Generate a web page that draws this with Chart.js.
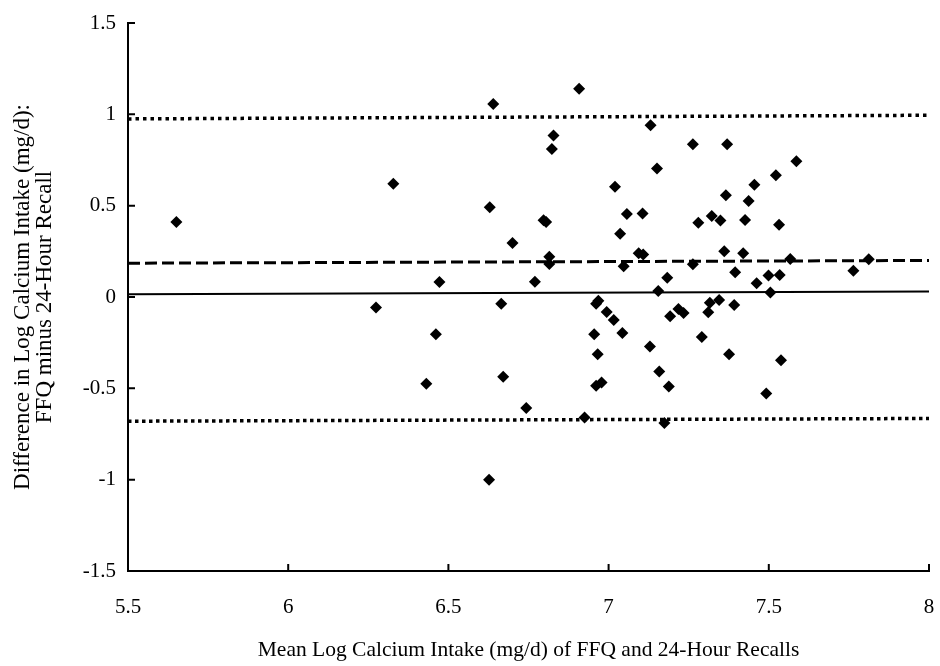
<!DOCTYPE html>
<html>
<head>
<meta charset="utf-8">
<script src="https://cdn.jsdelivr.net/npm/chart.js@4.4.1/dist/chart.umd.min.js"></script>
<style>
  body { margin: 0; background: #fff; }
  #wrap { width: 940px; height: 666px; }
</style>
</head>
<body>
<div id="wrap"><canvas id="myChart" width="940" height="666"></canvas></div>
<script>
// mean of log intake (x) and FFQ minus recall difference (y)
const meanIntake = [5.651, 6.328, 6.274, 6.640, 6.908, 7.131, 6.828, 6.823, 7.151, 7.020,
  6.629, 6.797, 6.805, 7.057, 7.106, 7.036, 6.700, 6.815, 6.815, 7.094,
  7.108, 7.047, 6.472, 6.770, 7.155, 6.665, 6.961, 6.968, 6.994, 7.016,
  6.461, 6.955, 7.043, 7.263, 7.370, 7.586, 7.522, 7.455, 7.366, 7.437,
  7.280, 7.322, 7.349, 7.426, 7.532, 7.361, 7.420, 7.567, 7.812, 7.263,
  7.764, 7.395, 7.183, 7.499, 7.534, 7.462, 7.505, 7.345, 7.316, 7.392,
  7.218, 7.234, 7.192, 7.311, 7.291, 6.966, 6.431, 6.671, 6.961, 6.978,
  6.743, 6.925, 6.627, 7.129, 7.376, 7.538, 7.158, 7.188, 7.492, 7.174]
const logDiff = [0.41, 0.62, -0.058, 1.056, 1.14, 0.94, 0.884, 0.81, 0.703, 0.603,
  0.492, 0.42, 0.41, 0.455, 0.457, 0.346, 0.295, 0.22, 0.18, 0.239,
  0.233, 0.169, 0.082, 0.084, 0.033, -0.037, -0.037, -0.02, -0.082, -0.126,
  -0.204, -0.204, -0.197, 0.836, 0.836, 0.743, 0.667, 0.614, 0.557, 0.525,
  0.406, 0.443, 0.419, 0.422, 0.395, 0.25, 0.239, 0.208, 0.206, 0.179,
  0.144, 0.135, 0.105, 0.118, 0.12, 0.075, 0.024, -0.016, -0.031, -0.044,
  -0.066, -0.087, -0.106, -0.084, -0.219, -0.313, -0.475, -0.437, -0.486, -0.468,
  -0.607, -0.66, -1.0, -0.271, -0.313, -0.346, -0.408, -0.49, -0.528, -0.69]

// reference lines, left and right end values
const lineEnds = [5.5, 8]
const upperLimit = [0.975, 0.995]
const meanLine = [0.185, 0.2]
const zeroLine = [0.015, 0.03]
const lowerLimit = [-0.68, -0.665]

const xTicks = [5.5, 6, 6.5, 7, 7.5, 8]
const yTicks = [-1.5, -1, -0.5, 0, 0.5, 1, 1.5]

const serif = "'Liberation Serif', 'Times New Roman', serif"

function toPoints(xs, ys) {
  return xs.map((x, i) => ({ x: x, y: ys[i] }))
}

function refLine(ys, dash, width) {
  return {
    type: 'line',
    data: toPoints(lineEnds, ys),
    borderColor: '#000',
    borderWidth: width,
    borderDash: dash,
    borderCapStyle: 'butt',
    pointRadius: 0,
    fill: false
  }
}

// small tick marks pointing into the plot, like the original
const innerTicks = {
  id: 'innerTicks',
  afterDraw(chart) {
    const ctx = chart.ctx
    const area = chart.chartArea
    const xs = chart.scales.x
    const ys = chart.scales.y
    ctx.save()
    ctx.strokeStyle = '#000'
    ctx.lineWidth = 2
    ctx.beginPath()
    xTicks.forEach(v => {
      let px = xs.getPixelForValue(v)
      ctx.moveTo(px, area.bottom)
      ctx.lineTo(px, area.bottom - 7)
    })
    yTicks.forEach(v => {
      let py = ys.getPixelForValue(v)
      ctx.moveTo(area.left, py)
      ctx.lineTo(area.left + 7, py)
    })
    ctx.stroke()
    ctx.restore()
  }
}

let ctx = document.getElementById('myChart').getContext('2d')
let chart = new Chart(ctx, {
  type: 'scatter',
  data: {
    datasets: [
      {
        label: 'Difference',
        data: toPoints(meanIntake, logDiff),
        pointStyle: 'rectRot',
        pointRadius: 6,
        backgroundColor: '#000',
        borderColor: '#000',
        borderWidth: 0
      },
      refLine(upperLimit, [3.5, 4], 3.5),
      refLine(meanLine, [12, 5], 3),
      refLine(zeroLine, [], 2),
      refLine(lowerLimit, [3.5, 3.5], 3.5)
    ]
  },
  options: {
    responsive: false,
    animation: false,
    layout: { padding: { top: 23, right: 11, bottom: 0, left: 0 } },
    plugins: {
      legend: { display: false },
      tooltip: { enabled: false }
    },
    scales: {
      x: {
        type: 'linear',
        min: 5.5,
        max: 8,
        afterFit: (s) => {
          s.height = 95
          s.paddingLeft = 0
          s.paddingRight = 0
        },
        afterBuildTicks: (s) => { s.ticks = xTicks.map(v => ({ value: v })) },
        grid: { display: false },
        border: { display: true, color: '#000', width: 2 },
        ticks: {
          color: '#000',
          padding: 16,
          maxRotation: 0,
          font: { family: serif, size: 21 },
          callback: (v) => String(v)
        },
        title: {
          display: true,
          text: 'Mean Log Calcium Intake (mg/d) of FFQ and 24-Hour Recalls',
          color: '#000',
          font: { family: serif, size: 21.5 },
          padding: { top: 0, bottom: 3 }
        }
      },
      y: {
        type: 'linear',
        min: -1.5,
        max: 1.5,
        afterFit: (s) => { s.width = 128 },
        afterBuildTicks: (s) => { s.ticks = yTicks.map(v => ({ value: v })) },
        grid: { display: false },
        border: { display: true, color: '#000', width: 2 },
        ticks: {
          color: '#000',
          padding: 4,
          font: { family: serif, size: 21 },
          callback: (v) => String(v)
        },
        title: {
          display: true,
          text: ['Difference in Log Calcium Intake (mg/d):', 'FFQ minus 24-Hour Recall'],
          color: '#000',
          font: { family: serif, size: 23, lineHeight: 0.95 },
          padding: { top: 12, bottom: 0 }
        }
      }
    }
  },
  plugins: [innerTicks]
})
</script>
</body>
</html>
